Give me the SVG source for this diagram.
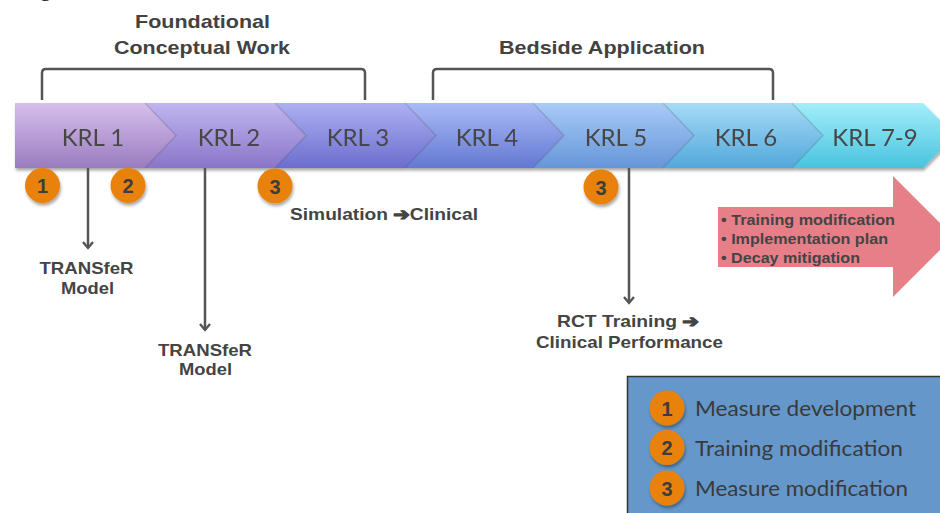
<svg xmlns="http://www.w3.org/2000/svg" width="940" height="513" viewBox="0 0 940 513">
  <defs>
    <style>
      .hdr { font-family: "Liberation Sans", Arial, sans-serif; font-weight: bold; font-size: 18.5px; fill: #424242; text-anchor: middle; }
      .krl { font-family: Lato, "Open Sans", sans-serif; font-size: 24px; fill: #474747; text-anchor: middle; }
      .lbl { font-family: "Liberation Sans", Arial, sans-serif; font-weight: bold; font-size: 16.5px; fill: #444; text-anchor: middle; }
      .start { text-anchor: start; }
      .arw { font-family: "DejaVu Sans", sans-serif; font-size: 17px; stroke: #444; stroke-width: 1.3; stroke-linejoin: round; }
      .bul { font-family: "Liberation Sans", Arial, sans-serif; font-weight: bold; font-size: 14.5px; fill: #444; }
      .num { font-family: "Liberation Sans", Arial, sans-serif; font-weight: bold; font-size: 20px; fill: #3d3d3d; text-anchor: middle; }
      .leg { font-family: Lato, "Open Sans", sans-serif; font-size: 21px; fill: #3a3a3a; }
      .bracket { fill: none; stroke: #555; stroke-width: 2.5; stroke-linejoin: round; }
      .edge { fill: none; stroke: #000; stroke-opacity: 0.14; stroke-width: 1.5; }
      .conn line { stroke: #555; stroke-width: 2.5; }
      .badge { fill: #e8820c; }
    </style>
    <linearGradient id="g1" x1="0" y1="0" x2="0" y2="1"><stop offset="0" stop-color="#d6bfeb"/><stop offset="1" stop-color="#9a7cc0"/></linearGradient>
    <linearGradient id="g2" x1="0" y1="0" x2="0" y2="1"><stop offset="0" stop-color="#c0b6f0"/><stop offset="1" stop-color="#8a75c9"/></linearGradient>
    <linearGradient id="g3" x1="0" y1="0" x2="0" y2="1"><stop offset="0" stop-color="#adb0f2"/><stop offset="1" stop-color="#6c6dcf"/></linearGradient>
    <linearGradient id="g4" x1="0" y1="0" x2="0" y2="1"><stop offset="0" stop-color="#a9bbf6"/><stop offset="1" stop-color="#6478d2"/></linearGradient>
    <linearGradient id="g5" x1="0" y1="0" x2="0" y2="1"><stop offset="0" stop-color="#a9cbf8"/><stop offset="1" stop-color="#6596d8"/></linearGradient>
    <linearGradient id="g6" x1="0" y1="0" x2="0" y2="1"><stop offset="0" stop-color="#a5dbf7"/><stop offset="1" stop-color="#52a8dc"/></linearGradient>
    <linearGradient id="g7" x1="0" y1="0" x2="0" y2="1"><stop offset="0" stop-color="#a3eefa"/><stop offset="1" stop-color="#48c4df"/></linearGradient>
    <filter id="shadow" x="-10%" y="-20%" width="120%" height="150%">
      <feDropShadow dx="1" dy="2.5" stdDeviation="1.8" flood-color="#000" flood-opacity="0.35"/>
    </filter>
    <!-- open V arrowhead, drawn along +x so orient="auto" points it down the line -->
    <marker id="head" viewBox="0 0 12 12" refX="10" refY="6" markerWidth="12" markerHeight="12" markerUnits="userSpaceOnUse" orient="auto">
      <path d="M4,1 L10,6 L4,11" fill="none" stroke="#555" stroke-width="2.4"/>
    </marker>
    <!-- orange numbered badge -->
    <g id="badge">
      <circle r="17.5" class="badge" filter="url(#shadow)"/>
    </g>
  </defs>

  <rect width="940" height="513" fill="#fff"/>

  <!-- descender of a title line above the frame -->
  <text x="40" y="-4" font-family="Liberation Serif, serif" font-size="22" fill="#111">g</text>

  <!-- phase headings and brackets -->
  <g id="foundational">
    <text class="hdr" x="202.5" y="28" textLength="135" lengthAdjust="spacingAndGlyphs">Foundational</text>
    <text class="hdr" x="202" y="54" textLength="176" lengthAdjust="spacingAndGlyphs">Conceptual Work</text>
    <path class="bracket" d="M42,100 V73 Q42,69 46,69 H361 Q365,69 365,73 V100"/>
  </g>
  <g id="bedside">
    <text class="hdr" x="602" y="54" textLength="206" lengthAdjust="spacingAndGlyphs">Bedside Application</text>
    <path class="bracket" d="M433,100 V73 Q433,69 437,69 H769 Q773,69 773,73 V100"/>
  </g>

  <!-- KRL chevron band -->
  <g id="band" filter="url(#shadow)">
    <g id="krl1">
      <polygon points="15,103 145,103 176,135.5 145,168 15,168" fill="url(#g1)"/>
      <text class="krl" x="93" y="146">KRL 1</text>
    </g>
    <g id="krl2">
      <polygon points="145,103 275,103 306,135.5 275,168 145,168 176,135.5" fill="url(#g2)"/>
      <text class="krl" x="229" y="146">KRL 2</text>
    </g>
    <g id="krl3">
      <polygon points="275,103 405,103 436,135.5 405,168 275,168 306,135.5" fill="url(#g3)"/>
      <text class="krl" x="358" y="146">KRL 3</text>
    </g>
    <g id="krl4">
      <polygon points="405,103 533,103 564,135.5 533,168 405,168 436,135.5" fill="url(#g4)"/>
      <text class="krl" x="487" y="146">KRL 4</text>
    </g>
    <g id="krl5">
      <polygon points="533,103 663,103 694,135.5 663,168 533,168 564,135.5" fill="url(#g5)"/>
      <text class="krl" x="616" y="146">KRL 5</text>
    </g>
    <g id="krl6">
      <polygon points="663,103 792,103 823,135.5 792,168 663,168 694,135.5" fill="url(#g6)"/>
      <text class="krl" x="746" y="146">KRL 6</text>
    </g>
    <g id="krl7-9">
      <polygon points="792,103 923,103 955,135.5 923,168 792,168 823,135.5" fill="url(#g7)"/>
      <text class="krl" x="875" y="146">KRL 7-9</text>
    </g>
  </g>
  <g id="band-edges">
    <polyline class="edge" points="145,103 176,135.5 145,168"/>
    <polyline class="edge" points="275,103 306,135.5 275,168"/>
    <polyline class="edge" points="405,103 436,135.5 405,168"/>
    <polyline class="edge" points="533,103 564,135.5 533,168"/>
    <polyline class="edge" points="663,103 694,135.5 663,168"/>
    <polyline class="edge" points="792,103 823,135.5 792,168"/>
  </g>

  <!-- connectors -->
  <g id="connectors" class="conn">
    <line x1="88" y1="168" x2="88" y2="248" marker-end="url(#head)"/>
    <line x1="205" y1="168" x2="205" y2="330" marker-end="url(#head)"/>
    <line x1="629" y1="168" x2="629" y2="303" marker-end="url(#head)"/>
  </g>

  <!-- numbered badges on the band -->
  <g id="badge-1"><use href="#badge" x="42.5" y="185.5"/><text class="num" x="42.5" y="193">1</text></g>
  <g id="badge-2"><use href="#badge" x="128" y="185.5"/><text class="num" x="128" y="193">2</text></g>
  <g id="badge-3a"><use href="#badge" x="275" y="186"/><text class="num" x="275" y="193.5">3</text></g>
  <g id="badge-3b"><use href="#badge" x="601" y="187"/><text class="num" x="601" y="194.5">3</text></g>

  <!-- outcome labels -->
  <g id="transfer-1">
    <text class="lbl" x="86.5" y="274" textLength="94" lengthAdjust="spacingAndGlyphs">TRANSfeR</text>
    <text class="lbl" x="87.5" y="294" textLength="53" lengthAdjust="spacingAndGlyphs">Model</text>
  </g>
  <g id="transfer-2">
    <text class="lbl" x="205" y="356" textLength="94" lengthAdjust="spacingAndGlyphs">TRANSfeR</text>
    <text class="lbl" x="205.5" y="375" textLength="53" lengthAdjust="spacingAndGlyphs">Model</text>
  </g>
  <g id="sim-clinical">
    <text class="lbl start" x="290" y="220" textLength="188" lengthAdjust="spacingAndGlyphs">Simulation <tspan class="arw">➔</tspan>Clinical</text>
  </g>
  <g id="rct">
    <text class="lbl" x="628" y="327" textLength="142" lengthAdjust="spacingAndGlyphs">RCT Training <tspan class="arw">➔</tspan></text>
    <text class="lbl" x="629.5" y="348" textLength="187" lengthAdjust="spacingAndGlyphs">Clinical Performance</text>
  </g>

  <!-- KRL 7-9 activities arrow -->
  <g id="activities">
    <polygon points="718,207 893,207 893,176 953.5,236.5 893,297 893,267 718,267" fill="#e77f89"/>
    <text class="bul" x="721" y="224.5" textLength="174" lengthAdjust="spacingAndGlyphs">• Training modification</text>
    <text class="bul" x="721" y="243.5" textLength="167" lengthAdjust="spacingAndGlyphs">• Implementation plan</text>
    <text class="bul" x="721" y="262.5" textLength="139" lengthAdjust="spacingAndGlyphs">• Decay mitigation</text>
  </g>

  <!-- legend -->
  <g id="legend">
    <rect x="627.5" y="376.5" width="320" height="145" fill="#6597cb" stroke="#333" stroke-width="1.5"/>
    <use href="#badge" x="667" y="408"/><text class="num" x="667" y="415.5">1</text>
    <text class="leg" x="695" y="416" textLength="221" lengthAdjust="spacingAndGlyphs">Measure development</text>
    <use href="#badge" x="667" y="447.5"/><text class="num" x="667" y="455">2</text>
    <text class="leg" x="695" y="455.5" textLength="208" lengthAdjust="spacingAndGlyphs">Training modification</text>
    <use href="#badge" x="667" y="488"/><text class="num" x="667" y="495.5">3</text>
    <text class="leg" x="695" y="495.5" textLength="213" lengthAdjust="spacingAndGlyphs">Measure modification</text>
  </g>
</svg>
